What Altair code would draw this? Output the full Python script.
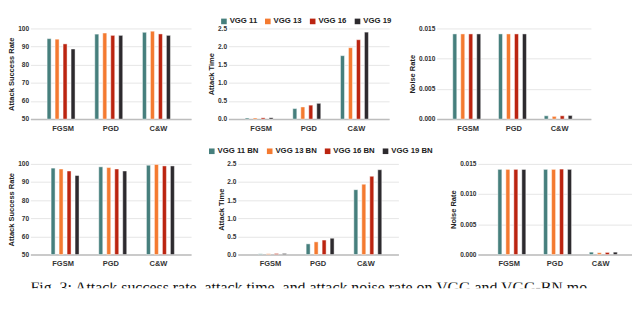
import altair as alt
import pandas as pd

attacks = ["FGSM", "PGD", "C&W"]
models_vgg = ["VGG 11", "VGG 13", "VGG 16", "VGG 19"]
models_bn = ["VGG 11 BN", "VGG 13 BN", "VGG 16 BN", "VGG 19 BN"]
colors = ["#467f7d", "#f47a30", "#bb2410", "#2d2a2e"]

# values ordered by model (11, 13, 16, 19) for each attack
asr_vgg = {"FGSM": [94.4, 94.1, 91.5, 88.7], "PGD": [96.9, 97.5, 96.2, 96.2], "C&W": [97.9, 98.5, 97.0, 96.2]}
time_vgg = {"FGSM": [0.03, 0.03, 0.035, 0.04], "PGD": [0.29, 0.335, 0.385, 0.435], "C&W": [1.75, 1.97, 2.19, 2.40]}
noise_vgg = {"FGSM": [0.0141, 0.0141, 0.0141, 0.0141], "PGD": [0.0141, 0.0141, 0.0141, 0.0141], "C&W": [0.00055, 0.00045, 0.00055, 0.0006]}

asr_bn = {"FGSM": [97.7, 97.2, 96.1, 93.6], "PGD": [98.4, 98.0, 97.2, 96.1], "C&W": [99.3, 99.7, 98.9, 98.9]}
time_bn = {"FGSM": [0.02, 0.025, 0.03, 0.03], "PGD": [0.295, 0.35, 0.40, 0.45], "C&W": [1.79, 1.94, 2.16, 2.34]}
noise_bn = {"FGSM": [0.0141, 0.0141, 0.0141, 0.0141], "PGD": [0.0141, 0.0141, 0.01415, 0.0141], "C&W": [0.0004, 0.0003, 0.00035, 0.0004]}

asr_ticks = [50, 60, 70, 80, 90, 100]
time_ticks = [0.0, 0.5, 1.0, 1.5, 2.0, 2.5]
noise_ticks = [0.0, 0.005, 0.010, 0.015]

caption = ["Fig. 3: Attack success rate, attack time, and attack noise rate on VGG and VGG-BN models"]

FONT = "Liberation Sans"
H = 97


def panel(models, values, ytitle, domain, ticks, fmt, width, legend=None):
    rows = []
    for a in attacks:
        for m, v in zip(models, values[a]):
            rows.append({"attack": a, "model": m, "value": v})
    df = pd.DataFrame(rows)
    return alt.Chart(df).mark_bar(stroke="white", strokeWidth=0.6, strokeOpacity=0.8).encode(
        x=alt.X("attack:N", sort=attacks,
                scale=alt.Scale(paddingInner=0.33, paddingOuter=0.35),
                axis=alt.Axis(title=None, labelAngle=0, domainColor="#bdbdbd", domainWidth=1.5,
                              ticks=False, labelPadding=6, labelFontSize=8)),
        xOffset=alt.XOffset("model:N", sort=models),
        y=alt.Y("value:Q", scale=alt.Scale(domain=domain, zero=False, nice=False, clamp=True),
                axis=alt.Axis(title=ytitle, values=ticks, format=fmt, grid=True, domain=False,
                              ticks=False, labelFontSize=7, labelPadding=2, titleFontSize=8,
                              titlePadding=2)),
        color=alt.Color("model:N", sort=models, scale=alt.Scale(domain=models, range=colors),
                        legend=legend),
    ).properties(width=width, height=H)


def make_legend(lx, ly):
    return alt.Legend(title=None, orient="none", direction="horizontal", columns=4,
                      legendX=lx, legendY=ly, symbolType="square", symbolSize=36,
                      symbolStrokeWidth=0, labelFontSize=8.3, labelFont=FONT,
                      labelFontWeight="bold", labelColor="#222", columnPadding=7,
                      labelOffset=2, padding=0)


row1 = alt.hconcat(
    panel(models_vgg, asr_vgg, "Attack Success Rate", [50, 100], asr_ticks, "d", 172),
    panel(models_vgg, time_vgg, "Attack Time", [0, 2.5], time_ticks, ".1f", 172, make_legend(-9, -12)),
    panel(models_vgg, noise_vgg, "Noise Rate", [0, 0.015], noise_ticks, ".3f", 165),
    spacing=18,
).resolve_scale(color="independent", x="independent", y="independent")

row2 = alt.hconcat(
    panel(models_bn, asr_bn, "Attack Success Rate", [50, 100], asr_ticks, "d", 172),
    panel(models_bn, time_bn, "Attack Time", [0, 2.5], time_ticks, ".1f", 172, make_legend(-32, -18)),
    panel(models_bn, noise_bn, "Noise Rate", [0, 0.015], noise_ticks, ".3f", 165),
    spacing=18,
).resolve_scale(color="independent", x="independent", y="independent")

cap = alt.Chart(pd.DataFrame({"t": caption})).mark_text(
    clip=True, align="left", baseline="alphabetic", font="Liberation Serif", fontSize=17,
    color="#111", limit=620, ellipsis=""
).encode(text="t:N", x=alt.value(0), y=alt.value(11)).properties(width=620, height=6)

chart = alt.vconcat(
    row1, row2, cap, spacing=16,
).resolve_scale(color="independent", x="independent", y="independent").configure_view(
    stroke=None
).configure_axis(
    labelFont=FONT, titleFont=FONT, labelFontWeight="bold", titleFontWeight="bold",
    labelColor="#333", titleColor="#222", gridColor="#e4e4e4"
).properties(padding={"left": 0, "top": 0, "right": 0, "bottom": -8})

chart.save("out.html", embed_options={"renderer": "svg", "actions": False})
